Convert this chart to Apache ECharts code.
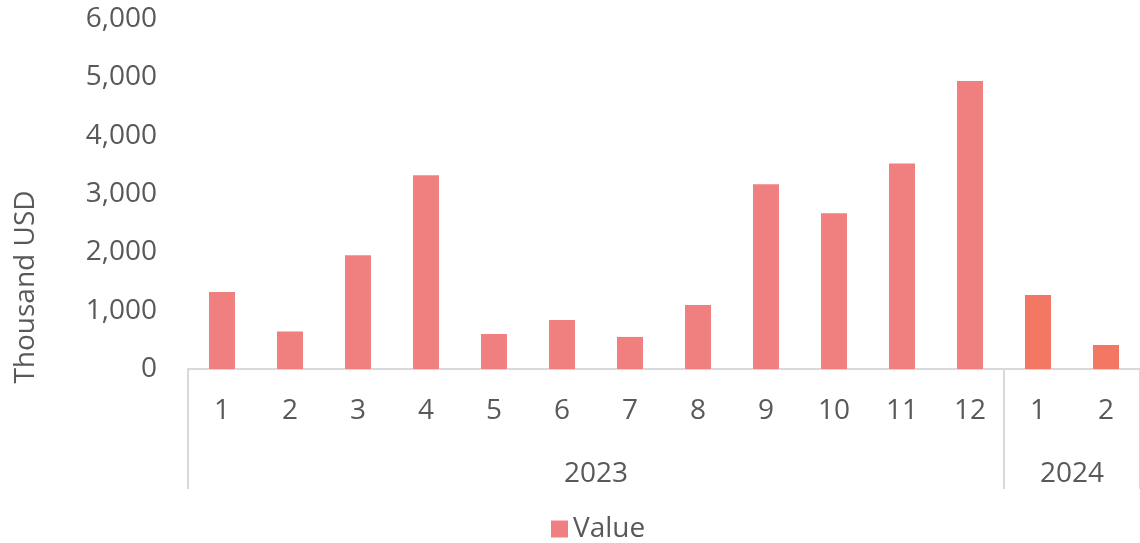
<!DOCTYPE html>
<html>
<head>
<meta charset="utf-8">
<script src="https://cdn.jsdelivr.net/npm/echarts@6/dist/echarts.min.js"></script>
<style>html,body{margin:0;padding:0;background:#fff}#c{width:1140px;height:543px}</style>
</head>
<body>
<div id="c"></div>
<script>
const months = ['1','2','3','4','5','6','7','8','9','10','11','12','1','2'];
const monthYear = ['2023','2023','2023','2023','2023','2023','2023','2023','2023','2023','2023','2023','2024','2024'];
const years = ['2023','2024'];
const values = [1318, 645, 1952, 3322, 600, 839, 550, 1096, 3168, 2671, 3522, 4937, 1267, 411];
const yTicks = [0, 1000, 2000, 3000, 4000, 5000, 6000];
const seriesName = 'Value';

const FONT = '"Open Sans", "Noto Sans", sans-serif';
const TXT = '#595959';
const colorFor = { '2023': '#F08080', '2024': '#F37763' };

const bounds = [0];
const centers = [];
years.forEach(y => {
  const first = monthYear.indexOf(y);
  const last = monthYear.lastIndexOf(y);
  bounds.push(last + 1);
  centers.push((first + last + 1) / 2);
});

const chart = echarts.init(document.getElementById('c'));
chart.setOption({
  animation: false,
  textStyle: { fontFamily: FONT },
  grid: { left: 188, right: 0, top: 19, bottom: 174 },
  legend: {
    top: 510, left: 546,
    itemWidth: 17, itemHeight: 17, itemGap: 10,
    icon: 'rect',
    textStyle: { fontSize: 28, color: TXT, fontFamily: FONT },
    data: [{ name: seriesName, itemStyle: { color: '#F08080' } }]
  },
  xAxis: [
    {
      type: 'category', data: months, position: 'bottom',
      axisLine: { show: true, lineStyle: { color: '#D9D9D9', width: 2 } },
      axisTick: { show: false },
      axisLabel: { color: TXT, fontSize: 28, margin: 28, fontFamily: FONT, interval: 0 }
    },
    {
      type: 'value', min: 0, max: months.length, position: 'bottom',
      axisLine: { show: false },
      splitLine: { show: false },
      axisTick: { show: true, customValues: bounds, length: 120, lineStyle: { color: '#D9D9D9', width: 2 } },
      axisLabel: {
        show: true, customValues: centers, margin: 91, color: TXT, fontSize: 28, fontFamily: FONT,
        formatter: v => { const i = centers.indexOf(v); return i >= 0 ? years[i] : ''; }
      }
    }
  ],
  yAxis: {
    type: 'value', min: yTicks[0], max: yTicks[yTicks.length - 1], interval: 1000,
    axisLine: { show: false }, axisTick: { show: false }, splitLine: { show: false },
    axisLabel: {
      color: TXT, fontSize: 28, margin: 31, fontFamily: FONT,
      formatter: v => v.toLocaleString('en-US')
    }
  },
  graphic: [{
    type: 'text', x: 26, y: 287, rotation: Math.PI / 2,
    style: { text: 'Thousand USD', fill: TXT, font: '28px ' + FONT, align: 'center', verticalAlign: 'middle' }
  }],
  series: [{
    name: seriesName, type: 'bar', xAxisIndex: 0, barWidth: 26,
    itemStyle: { color: '#F08080' },
    data: values.map((v, i) => ({ value: v, itemStyle: { color: colorFor[monthYear[i]] } }))
  }]
});
</script>
</body>
</html>
